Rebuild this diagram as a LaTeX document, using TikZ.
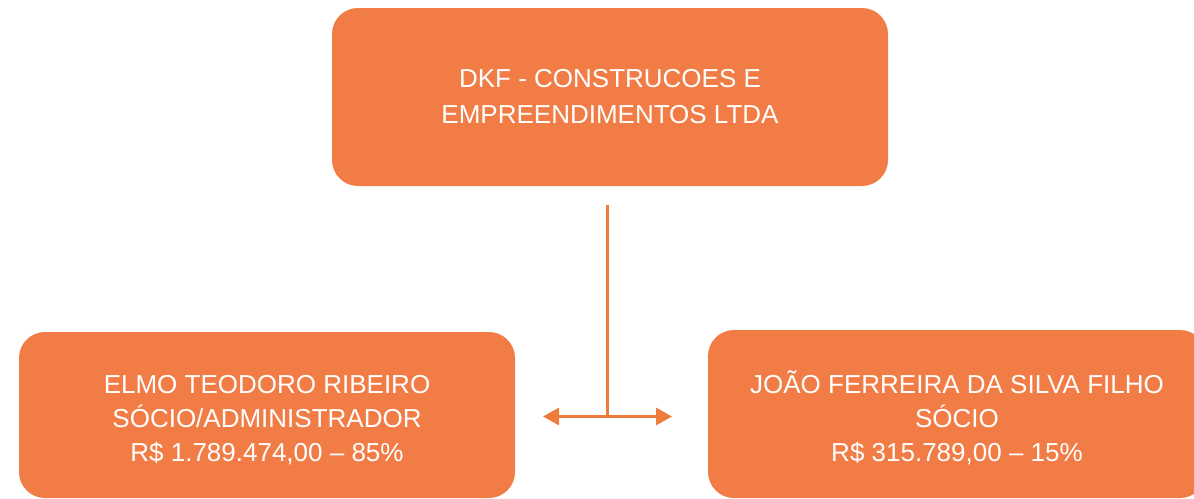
\documentclass[tikz,border=0pt]{standalone}
\usepackage{fontspec}
\setmainfont{Liberation Sans}
\usetikzlibrary{arrows.meta}
\definecolor{boxor}{HTML}{F27C45}
\definecolor{lineor}{HTML}{EE7B3A}
\tikzset{
  orgtext/.style={text=white, align=center, font=\fontsize{26}{34}\selectfont},
  conn/.style={draw=lineor, line width=3pt},
}
\begin{document}
\begin{tikzpicture}[x=1pt,y=-1pt]
\useasboundingbox (0,0) rectangle (1194,498);
\begin{scope}
\clip (0,0) rectangle (1194,498);
\fill[boxor, rounded corners=26pt] (332,8) rectangle (888,186);
\fill[boxor, rounded corners=26pt] (19,332) rectangle (515,498);
\fill[boxor, rounded corners=26pt] (708,330) rectangle (1206,498);
\end{scope}
\node[orgtext, font=\fontsize{26}{36}\selectfont] (top) at (610,97) {DKF - CONSTRUCOES E\\EMPREENDIMENTOS LTDA};
\node[orgtext] (left) at (267,418) {\vphantom{Ã}ELMO TEODORO RIBEIRO\\SÓCIO/ADMINISTRADOR\\R\$ 1.789.474,00 – 85\%};
\node[orgtext] (right) at (957,418) {JOÃO FERREIRA DA SILVA FILHO\\SÓCIO\\R\$ 315.789,00 – 15\%};
\coordinate (vtop) at (607,205);
\coordinate (vbot) at (607,416.5);
\coordinate (hl) at (543,416.5);
\coordinate (hr) at (672,416.5);
\draw[conn] (vtop) -- (vbot);
\draw[conn, {Triangle[length=16pt,width=17pt]}-{Triangle[length=16pt,width=17pt]}] (hl) -- (hr);
\end{tikzpicture}
\end{document}
